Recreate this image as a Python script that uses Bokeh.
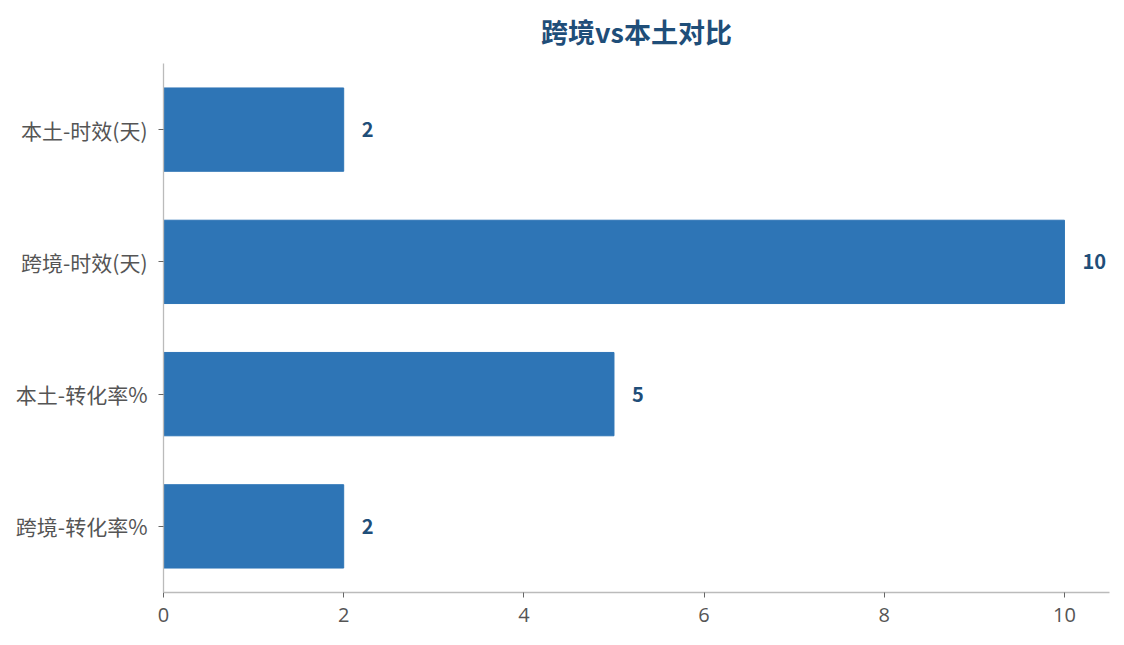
from bokeh.plotting import figure
from bokeh.models import ColumnDataSource, Range1d, FixedTicker
from bokeh.core.properties import value
from bokeh.embed import file_html
from bokeh.resources import INLINE

categories = ["跨境-转化率%", "本土-转化率%", "跨境-时效(天)", "本土-时效(天)"]
values = [2, 5, 10, 2]
x_ticks = [0, 2, 4, 6, 8, 10]
title_text = "跨境vs本土对比"

BAR = "#2e75b6"
DARK = "#1f4e79"
FONT = "Noto Sans CJK SC"

src = ColumnDataSource(dict(cat=categories, val=values, lab=[str(v) for v in values]))

p = figure(width=1116, height=637, y_range=categories, x_range=Range1d(0, 10.5),
           output_backend="svg", toolbar_location=None,
           min_border_left=163, min_border_right=7, min_border_top=62, min_border_bottom=45)
p.y_range.range_padding = 0

p.hbar(y="cat", right="val", left=0, height=0.63, color=BAR, source=src)
p.text(x="val", y="cat", text="lab", source=src, x_offset=18, text_baseline="middle",
       text_align="left", text_font=value(FONT), text_font_style="bold",
       text_font_size="20px", text_color=DARK)

p.title.text = title_text
p.title.align = "center"
p.title.vertical_align = "top"
p.title.text_font = FONT
p.title.text_font_size = "27px"
p.title.text_font_style = "bold"
p.title.text_color = DARK
p.title.standoff = 22

p.xgrid.visible = False
p.ygrid.visible = False
p.outline_line_color = None

p.xaxis.ticker = FixedTicker(ticks=x_ticks)
for ax in (p.xaxis[0], p.yaxis[0]):
    ax.axis_line_color = "#bbbbbb"
    ax.axis_line_width = 1.3
    ax.major_tick_line_color = "#666666"
    ax.major_tick_in = 0
    ax.major_tick_out = 5
    ax.minor_tick_line_color = None
    ax.major_label_text_color = "#555555"
p.yaxis.major_label_text_font = FONT
p.xaxis.major_label_text_font = "Open Sans"
p.yaxis.major_label_text_font_size = "21px"
p.xaxis.major_label_text_font_size = "20px"
p.yaxis.major_label_standoff = 11
p.xaxis.major_label_standoff = 10

open("out.html", "w").write(file_html(p, INLINE))
